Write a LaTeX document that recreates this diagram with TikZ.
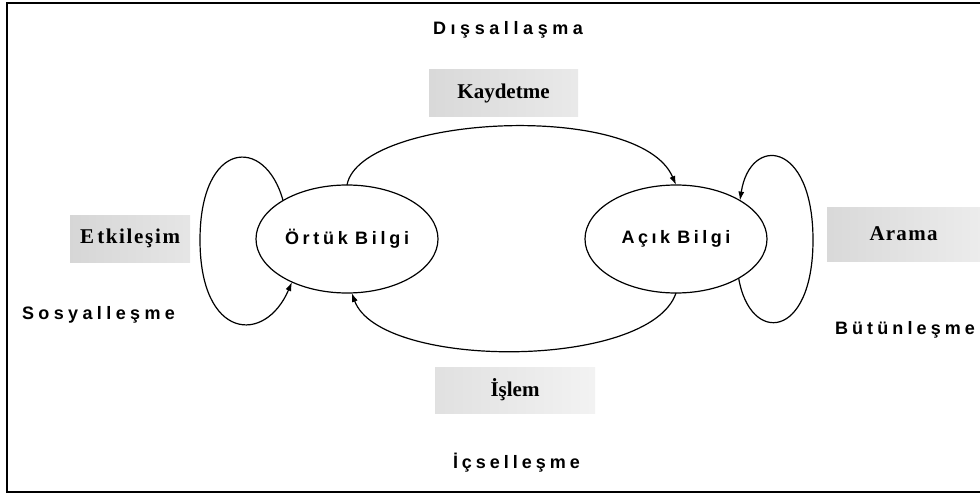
\documentclass[tikz,border=0pt]{standalone}
\usepackage{fontspec}
\setmainfont{Liberation Serif}
\newfontfamily\lblfont{Liberation Sans Bold}
\newfontfamily\tagfont{Liberation Serif Bold}
\usetikzlibrary{shapes.geometric,arrows.meta}
% letters spread evenly over a given width
\newcommand\spread[2]{\makebox[#1][s]{#2}}
\begin{document}
\begin{tikzpicture}[x=1pt,y=-1pt,
  knot/.style={draw,ellipse,line width=1.2pt,minimum width=182pt,minimum height=108pt,
    inner sep=0pt,outer sep=0pt,font=\lblfont\fontsize{18}{21}\selectfont},
  phase/.style={inner sep=0pt,font=\lblfont\fontsize{18}{21}\selectfont},
  tag/.style={rectangle,inner sep=0pt,font=\tagfont\fontsize{21}{25}\selectfont},
  flow/.style={line width=1.2pt,-{Latex[length=9pt,width=6pt]}}]
\useasboundingbox (0,0) rectangle (980,495);
% outer frame, open on the right
\draw[line width=2.2pt] (980,3) -- (7,3) -- (7,492) -- (980,492);

% the two kinds of knowledge
\node[knot] (ortuk) at (347,239)
  {\spread{124pt}{Ö\hfil r\hfil t\hfil ü\hfil k\hfil\hfil B\hfil i\hfil l\hfil g\hfil i}};
\node[knot] (acik)  at (676,239)
  {\spread{109pt}{A\hfil ç\hfil ı\hfil k\hfil\hfil B\hfil i\hfil l\hfil g\hfil i}};

% activity boxes
\node[tag,minimum width=149pt,minimum height=46pt,left color=gray!30,right color=gray!17] (kay)
  at (503.5,93) {Kaydetme};
\node[tag,minimum width=120pt,minimum height=47pt,left color=gray!32,right color=gray!20] (etk)
  at (130,238.5) {\spread{100pt}{E\hfil\hfil t\hfil k\hfil i\hfil l\hfil e\hfil ş\hfil i\hfil m}};
\node[tag,minimum width=153pt,minimum height=54pt,left color=gray!30,right color=gray!15] (ara)
  at (903.5,234) {\spread{68pt}{A\hfil r\hfil a\hfil m\hfil a}};
\node[tag,minimum width=160pt,minimum height=46pt,left color=gray!24,right color=gray!10] (isl)
  at (515,390) {İşlem};

% phase names
\node[phase] (dis) at (508,30)
  {\spread{150pt}{D\hfil ı\hfil ş\hfil s\hfil a\hfil l\hfil l\hfil a\hfil ş\hfil m\hfil a}};
\node[phase] (sos) at (98.5,315)
  {\spread{153pt}{S\hfil o\hfil s\hfil y\hfil a\hfil l\hfil l\hfil e\hfil ş\hfil m\hfil e}};
\node[phase] (but) at (905,330)
  {\spread{140pt}{B\hfil ü\hfil t\hfil ü\hfil n\hfil l\hfil e\hfil ş\hfil m\hfil e}};
\node[phase] (ics) at (516.5,463)
  {\spread{127pt}{İ\hfil ç\hfil s\hfil e\hfil l\hfil l\hfil e\hfil ş\hfil m\hfil e}};

% externalisation: tacit -> explicit
\draw[flow] (ortuk.north) .. controls (360,115) and (640,100) .. (acik.north);
% internalisation: explicit -> tacit
\draw[flow] (acik.south) .. controls (650,370) and (380,370) .. (ortuk.-85);
% socialisation loop
\draw[flow] (ortuk.149) .. controls (265,135) and (200,140) .. (200,240)
  .. controls (200,340) and (265,345) .. (ortuk.218);
% combination loop
\draw[flow] (acik.-32) .. controls (750,345) and (813,340) .. (813,240)
  .. controls (813,140) and (750,135) .. (acik.31);
\end{tikzpicture}
\end{document}
